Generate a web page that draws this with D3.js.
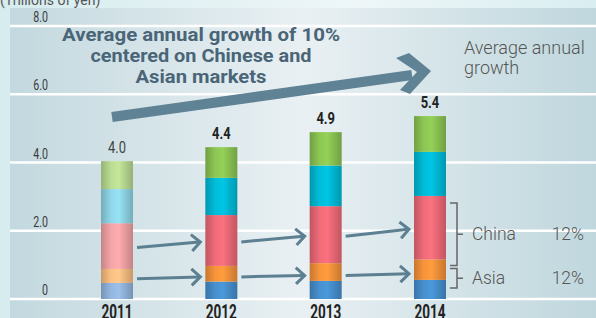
<!DOCTYPE html>
<html>
<head>
<meta charset="utf-8">
<script src="https://cdn.jsdelivr.net/npm/d3@7"></script>
<style>
  html, body { margin: 0; padding: 0; background: #dff0f3; }
  svg { display: block; }
</style>
</head>
<body>
<div id="chart"></div>
<script>
const years = ['2011', '2012', '2013', '2014']
const totalLabels = ['4.0', '4.4', '4.9', '5.4']
const otherAsia = [0.47, 0.51, 0.53, 0.56]
const asia = [0.41, 0.46, 0.52, 0.60]
const china = [1.34, 1.49, 1.67, 1.86]
const cyanPart = [1.00, 1.09, 1.19, 1.29]
const greenPart = [0.82, 0.90, 0.98, 1.05]
const yTicks = [0, 2, 4, 6, 8]
const yTickLabels = ['0', '2.0', '4.0', '6.0', '8.0']
const legendNames = ['China', 'Asia']
const legendGrowth = ['12%', '12%']

const WIDTH = 596
const HEIGHT = 318

const keys = ['base', 'asia', 'china', 'cyan', 'green']
const colors = ['#4790cf', '#f7943a', '#ef6b78', '#00bcd9', '#8cc653']
const faded = ['#93b6df', '#fcbf82', '#f4a3a6', '#8fd6e8', '#badb92']

const rows = years.map((yr, i) => ({
  year: yr,
  base: otherAsia[i],
  asia: asia[i],
  china: china[i],
  cyan: cyanPart[i],
  green: greenPart[i]
}))

const series = d3.stack().keys(keys)(rows)

const x = d3.scalePoint().domain(years).range([117, 430])
const y = d3.scaleLinear().domain([0, 8]).range([299, 26])
const barW = 32

// no narrow font installed, so squeeze text horizontally
const SQUEEZE = 0.76
const narrow = (xx, yy) => `translate(${xx},${yy}) scale(${SQUEEZE},1)`

const svg = d3.select('#chart')
  .append('svg')
    .attr('width', WIDTH)
    .attr('height', HEIGHT)

const defs = svg.append('defs')

const bg = defs.append('linearGradient').attr('id', 'bg')
bg.append('stop').attr('offset', '0%').attr('stop-color', '#c3d9df')
bg.append('stop').attr('offset', '50%').attr('stop-color', '#e9f0f3')
bg.append('stop').attr('offset', '100%').attr('stop-color', '#bfd7dd')

const topBg = defs.append('linearGradient').attr('id', 'topbg')
topBg.append('stop').attr('offset', '0%').attr('stop-color', '#d6ecef')
topBg.append('stop').attr('offset', '60%').attr('stop-color', '#eef6f8')
topBg.append('stop').attr('offset', '100%').attr('stop-color', '#d9eef1')

// cylinder look for every bar colour
const addGrad = (id, c) => {
  const g = defs.append('linearGradient').attr('id', id)
  const dark = d3.color(c).darker(0.6)
  g.append('stop').attr('offset', '0%').attr('stop-color', dark)
  g.append('stop').attr('offset', '30%').attr('stop-color', c)
  g.append('stop').attr('offset', '55%').attr('stop-color', d3.color(c).brighter(0.15))
  g.append('stop').attr('offset', '100%').attr('stop-color', dark)
}
keys.forEach((k, i) => {
  addGrad('g-' + k, colors[i])
  addGrad('f-' + k, faded[i])
})

svg.append('rect')
  .attr('width', WIDTH).attr('height', HEIGHT)
  .attr('fill', 'url(#topbg)')

svg.append('rect')
  .attr('x', 10).attr('y', 8)
  .attr('width', WIDTH - 10).attr('height', HEIGHT - 8)
  .attr('fill', 'url(#bg)')

svg.append('text')
  .attr('x', 0).attr('y', 5)
  .attr('font-family', 'Roboto, sans-serif')
  .attr('font-size', 14)
  .attr('fill', '#555')
  .text('(Trillions of yen)')

// grid
svg.append('g')
  .selectAll('line')
  .data(yTicks)
  .join('line')
    .attr('x1', 10).attr('x2', WIDTH)
    .attr('y1', d => y(d)).attr('y2', d => y(d))
    .attr('stroke', '#fff')
    .attr('stroke-width', 2.5)

svg.append('g')
  .selectAll('text')
  .data(yTicks)
  .join('text')
    .attr('transform', d => narrow(48, y(d) - 4))
    .attr('text-anchor', 'end')
    .attr('font-family', 'Roboto, sans-serif')
    .attr('font-size', 14)
    .attr('fill', '#3a3a3a')
    .text((d, i) => yTickLabels[i])

// bars
svg.append('g')
  .selectAll('g')
  .data(series)
  .join('g')
    .selectAll('rect')
    .data(d => d.map(p => ({ p, key: d.key })))
    .join('rect')
      .attr('x', d => x(d.p.data.year) - barW / 2)
      .attr('y', d => y(d.p[1]))
      .attr('width', barW)
      .attr('height', d => y(d.p[0]) - y(d.p[1]))
      .attr('fill', d => d.p.data.year === '2011' ? `url(#f-${d.key})` : `url(#g-${d.key})`)

// totals
const tops = series[series.length - 1]
svg.append('g')
  .selectAll('text')
  .data(tops)
  .join('text')
    .attr('transform', d => narrow(x(d.data.year), y(d[1]) - 8))
    .attr('text-anchor', 'middle')
    .attr('font-family', 'Roboto, sans-serif')
    .attr('font-size', 17)
    .attr('font-weight', (d, i) => i === 0 ? 'normal' : 'bold')
    .attr('fill', (d, i) => i === 0 ? '#444' : '#222')
    .text((d, i) => totalLabels[i])

// year labels
svg.append('g')
  .selectAll('text')
  .data(years)
  .join('text')
    .attr('x', d => x(d))
    .attr('y', 319)
    .attr('text-anchor', 'middle')
    .attr('font-family', 'Roboto, sans-serif')
    .attr('font-size', 21)
    .attr('font-weight', 'bold')
    .attr('fill', '#222')
    .attr('textLength', 31)
    .attr('lengthAdjust', 'spacingAndGlyphs')
    .text(d => d)

// small growth arrows between bars
const arrowColor = '#5c7f92'
const chinaMid = rows.map(r => y(r.base + r.asia + r.china / 2) + 1.5)
const asiaMid = rows.map(r => y(r.base + r.asia * 0.3))

const arrows = []
for (let i = 0; i < years.length - 1; i++) {
  arrows.push({ x1: x(years[i]) + 20, x2: x(years[i + 1]) - 21, y1: chinaMid[i], y2: chinaMid[i + 1] })
  arrows.push({ x1: x(years[i]) + 20, x2: x(years[i + 1]) - 21, y1: asiaMid[i], y2: asiaMid[i + 1] })
}

const headPath = (a, len, spread) => {
  const ang = Math.atan2(a.y2 - a.y1, a.x2 - a.x1)
  const p1 = [a.x2 - len * Math.cos(ang - spread), a.y2 - len * Math.sin(ang - spread)]
  const p2 = [a.x2 - len * Math.cos(ang + spread), a.y2 - len * Math.sin(ang + spread)]
  return `M${p1}L${a.x2},${a.y2}L${p2}`
}

const ag = svg.append('g')
  .attr('stroke', arrowColor)
  .attr('fill', 'none')
  .attr('stroke-width', 3)

ag.selectAll('line')
  .data(arrows)
  .join('line')
    .attr('x1', d => d.x1).attr('y1', d => d.y1)
    .attr('x2', d => d.x2 - 1).attr('y2', d => d.y2)

ag.selectAll('path')
  .data(arrows)
  .join('path')
    .attr('d', d => headPath(d, 12, 0.75))

// big arrow
svg.append('line')
  .attr('x1', 112).attr('y1', 117)
  .attr('x2', 412).attr('y2', 75)
  .attr('stroke', '#5f8294')
  .attr('stroke-width', 10)

svg.append('path')
  .attr('d', 'M396,58 L409,53 L431,71 L410,94 L400,90 L417,72 Z')
  .attr('fill', '#5f8294')

const headline = ['Average annual growth of 10%', 'centered on Chinese and', 'Asian markets']
const headlineWidth = [278, 221, 131]
svg.append('g')
  .selectAll('text')
  .data(headline)
  .join('text')
    .attr('x', 201)
    .attr('y', (d, i) => 41 + i * 21)
    .attr('text-anchor', 'middle')
    .attr('font-family', 'Roboto, sans-serif')
    .attr('font-size', 18)
    .attr('font-weight', 'bold')
    .attr('fill', '#4a6577')
    .attr('textLength', (d, i) => headlineWidth[i])
    .attr('lengthAdjust', 'spacingAndGlyphs')
    .text(d => d)

svg.append('g')
  .selectAll('text')
  .data(['Average annual', 'growth'])
  .join('text')
    .attr('x', 464)
    .attr('y', (d, i) => 54 + i * 20)
    .attr('font-family', 'Roboto, sans-serif')
    .attr('font-size', 18)
    .attr('font-weight', 300)
    .attr('fill', '#555')
    .text(d => d)

// brackets on 2014 bar
const last = rows[rows.length - 1]
const brackets = [
  { top: y(last.base + last.asia + last.china) + 7, bottom: y(last.base + last.asia) + 6 },
  { top: y(last.base + last.asia) + 9, bottom: y(last.base) + 8 }
]

const bx = 457
const bg2 = svg.append('g')
  .attr('stroke', '#666')
  .attr('stroke-width', 1.5)
  .attr('fill', 'none')

bg2.selectAll('path')
  .data(brackets)
  .join('path')
    .attr('d', d => `M${bx - 7},${d.top}H${bx}V${d.bottom}H${bx - 7}M${bx},${(d.top + d.bottom) / 2}H${bx + 6}`)

const lg = svg.append('g')
  .attr('font-family', 'Roboto, sans-serif')
  .attr('font-size', 17.5)
  .attr('font-weight', 300)
  .attr('fill', '#555')

lg.selectAll('text.name')
  .data(brackets)
  .join('text')
    .attr('class', 'name')
    .attr('x', 472)
    .attr('y', d => (d.top + d.bottom) / 2 + 6)
    .text((d, i) => legendNames[i])

lg.selectAll('text.pct')
  .data(brackets)
  .join('text')
    .attr('class', 'pct')
    .attr('x', 584)
    .attr('y', d => (d.top + d.bottom) / 2 + 6)
    .attr('text-anchor', 'end')
    .text((d, i) => legendGrowth[i])
</script>
</body>
</html>
